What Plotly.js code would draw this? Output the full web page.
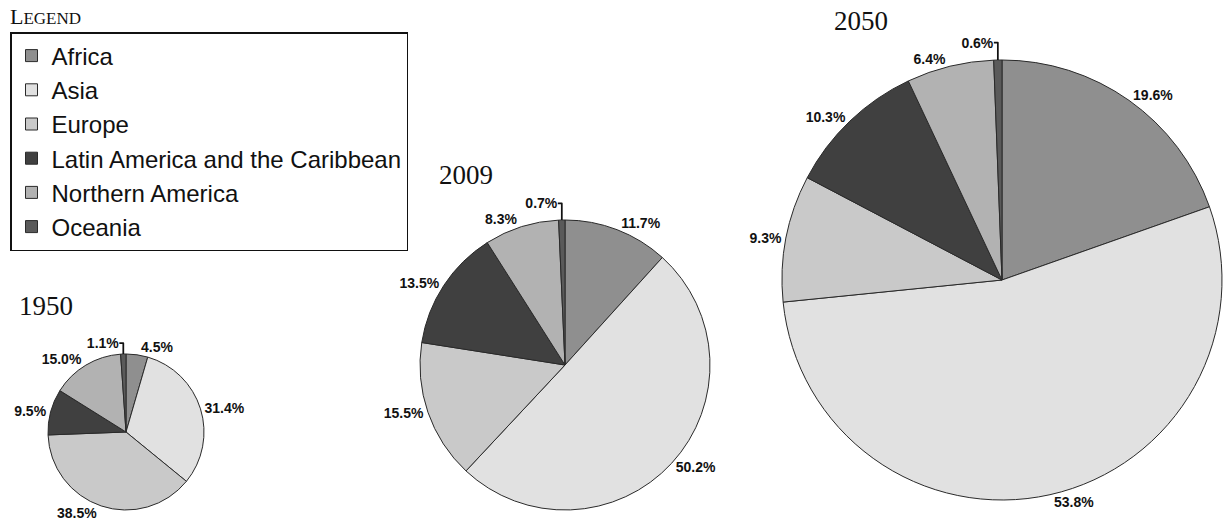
<!DOCTYPE html>
<html>
<head>
<meta charset="utf-8">
<script src="https://cdn.plot.ly/plotly-3.0.1.min.js"></script>
<style>
  html, body { margin: 0; padding: 0; background: #ffffff; }
  #chart { width: 1225px; height: 531px; }
</style>
</head>
<body>
<div id="chart"></div>
<script>
const regions = ["Africa", "Asia", "Europe", "Latin America and the Caribbean", "Northern America", "Oceania"];
const regionColors = ["#8f8f8f", "#e1e1e1", "#c9c9c9", "#404040", "#b2b2b2", "#5a5a5a"];
const years = ["1950", "2009", "2050"];
const share1950 = [4.5, 31.4, 38.5, 9.5, 15.0, 1.1];
const share2009 = [11.7, 50.2, 15.5, 13.5, 8.3, 0.7];
const share2050 = [19.6, 53.8, 9.3, 10.3, 6.4, 0.6];

const W = 1225, H = 531;
// pie geometry in pixels: centre x, centre y, radius
const geoms = [
  {cx: 126, cy: 432, r: 78},
  {cx: 565, cy: 365, r: 145},
  {cx: 1002, cy: 280, r: 220}
];
function domainOf(g) {
  return {
    x: [(g.cx - g.r) / W, (g.cx + g.r) / W],
    y: [1 - (g.cy + g.r) / H, 1 - (g.cy - g.r) / H]
  };
}
const labelFont = {family: "Liberation Sans, Arial, sans-serif", size: 14, color: "#111111", weight: "bold"};
const seriesList = [share1950, share2009, share2050];
const traces = seriesList.map((vals, i) => ({
  type: "pie",
  labels: regions,
  values: vals,
  name: years[i],
  sort: false,
  direction: "clockwise",
  rotation: 0,
  domain: domainOf(geoms[i]),
  marker: {colors: regionColors, line: {color: "#2a2a2a", width: 1}},
  textposition: "outside",
  texttemplate: "%{value:.1f}%",
  textfont: labelFont,
  outsidetextfont: labelFont,
  hoverinfo: "label+value",
  showlegend: i === 0,
  automargin: false
}));

const titleFont = {family: "Liberation Serif, Times New Roman, serif", size: 27, color: "#111111"};
const layout = {
  width: W, height: H,
  margin: {l: 0, r: 0, t: 0, b: 0},
  paper_bgcolor: "#ffffff",
  plot_bgcolor: "#ffffff",
  showlegend: true,
  legend: {
    x: 10 / W, y: 1 - 32 / H, xanchor: "left", yanchor: "top",
    bordercolor: "#111111", borderwidth: 1.5, bgcolor: "#ffffff",
    font: {family: "Liberation Sans, Arial, sans-serif", size: 24, color: "#111111"},
    traceorder: "normal"
  },
  annotations: [
    {text: "L<span style='font-size:17px'>EGEND</span>", x: 8 / W, y: 1 - 2 / H, xref: "paper", yref: "paper",
     xanchor: "left", yanchor: "top", showarrow: false,
     font: {family: "Liberation Serif, Times New Roman, serif", size: 22, color: "#111111"}},
    {text: years[0], x: 17 / W, y: 1 - 289 / H, xref: "paper", yref: "paper",
     xanchor: "left", yanchor: "top", showarrow: false, font: titleFont},
    {text: years[1], x: 437 / W, y: 1 - 158 / H, xref: "paper", yref: "paper",
     xanchor: "left", yanchor: "top", showarrow: false, font: titleFont},
    {text: years[2], x: 832 / W, y: 1 - 4 / H, xref: "paper", yref: "paper",
     xanchor: "left", yanchor: "top", showarrow: false, font: titleFont}
  ]
};
Plotly.newPlot("chart", traces, layout, {displayModeBar: false, staticPlot: true});
</script>
</body>
</html>
